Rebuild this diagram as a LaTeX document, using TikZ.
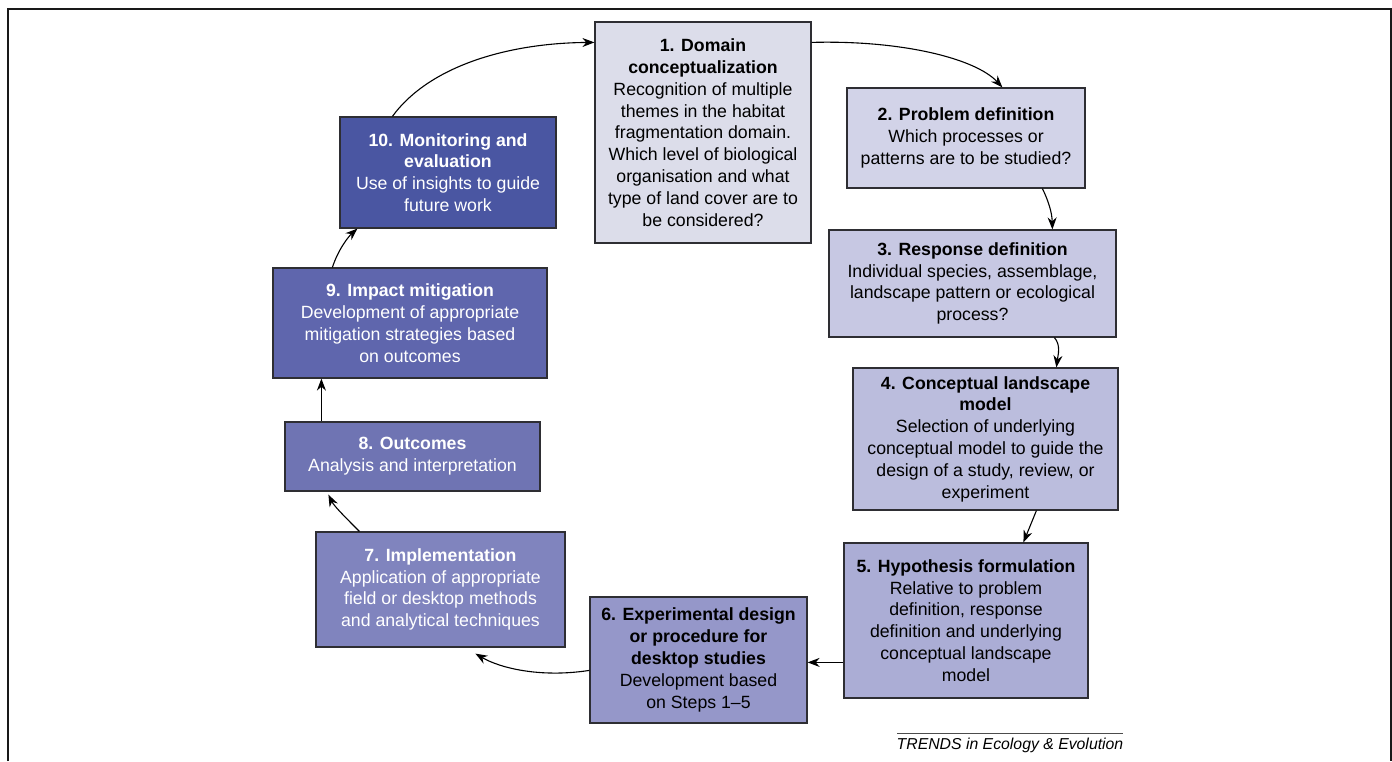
\documentclass[tikz,border=0pt]{standalone}
\usepackage{fontspec}
\setmainfont{Liberation Sans}
\usetikzlibrary{arrows.meta}
\definecolor{c1}{HTML}{DCDDEA}
\definecolor{c2}{HTML}{D2D3E8}
\definecolor{c3}{HTML}{C7C8E3}
\definecolor{c4}{HTML}{BBBDDD}
\definecolor{c5}{HTML}{ABADD5}
\definecolor{c6}{HTML}{9597C9}
\definecolor{c7}{HTML}{8084BE}
\definecolor{c8}{HTML}{6F74B3}
\definecolor{c9}{HTML}{5F66AD}
\definecolor{c10}{HTML}{4A56A2}
\definecolor{edge}{HTML}{2E2E33}
\tikzset{
  stepbox/.style={draw=edge, line width=1.2pt, inner sep=0pt, align=center,
    font=\fontsize{17.7}{21.8}\selectfont, text=black},
  darkbox/.style={stepbox, text=white},
  flow/.style={draw=black, line width=1.1pt, -{Stealth[length=12pt,width=9pt]}},
}
\begin{document}
\begin{tikzpicture}[x=1pt,y=-1pt]
\useasboundingbox (0,0) rectangle (1392,761);
% frame
\draw[line width=2pt, draw=black!90] (8,761) -- (8,9) -- (1391,9) -- (1391,761);
% boxes
\node[stepbox, fill=c1, minimum width=216pt, minimum height=221pt] (b1) at (703,132.5)
  {\textbf{1. Domain}\\\textbf{conceptualization}\\Recognition of multiple\\themes in the habitat\\fragmentation domain.\\Which level of biological\\organisation and what\\type of land cover are to\\be considered?};
\node[stepbox, fill=c2, minimum width=238pt, minimum height=100pt] (b2) at (966,138)
  {\textbf{2. Problem definition}\\Which processes or\\patterns are to be studied?};
\node[stepbox, fill=c3, minimum width=287pt, minimum height=107pt] (b3) at (972.5,283.5)
  {\textbf{3. Response definition}\\Individual species, assemblage,\\landscape pattern or ecological\\process?};
\node[stepbox, fill=c4, minimum width=265pt, minimum height=142pt] (b4) at (985.5,439)
  {\textbf{4. Conceptual landscape}\\\textbf{model}\\Selection of underlying\\conceptual model to guide the\\design of a study, review, or\\experiment};
\node[stepbox, fill=c5, minimum width=244pt, minimum height=155pt] (b5) at (966,620.5)
  {\textbf{5. Hypothesis formulation}\\Relative to problem\\definition, response\\definition and underlying\\conceptual landscape\\model};
\node[stepbox, fill=c6, minimum width=217pt, minimum height=126pt] (b6) at (698.5,660)
  {\textbf{6. Experimental design}\\\textbf{or procedure for}\\\textbf{desktop studies}\\Development based\\on Steps 1--5};
\node[darkbox, fill=c7, minimum width=249pt, minimum height=115pt] (b7) at (440.5,589.5)
  {\textbf{7. Implementation}\\Application of appropriate\\field or desktop methods\\and analytical techniques};
\node[darkbox, fill=c8, minimum width=255pt, minimum height=69pt] (b8) at (412.5,456.5)
  {\textbf{8. Outcomes}\\Analysis and interpretation};
\node[darkbox, fill=c9, minimum width=274pt, minimum height=110pt] (b9) at (410,323)
  {\textbf{9. Impact mitigation}\\Development of appropriate\\mitigation strategies based\\on outcomes};
\node[darkbox, fill=c10, minimum width=216pt, minimum height=111pt] (b10) at (448,172.5)
  {\textbf{10. Monitoring and}\\\textbf{evaluation}\\Use of insights to guide\\future work};
% connectors
\draw[flow] ([yshift=-21pt]b1.north east) .. controls (900,40) and (975,58) .. ([xshift=156pt]b2.north west);
\draw[flow] ([xshift=196pt]b2.south west) .. controls (1048,200) and (1052,212) .. ([xshift=224pt]b3.north west);
\draw[flow] ([xshift=226pt]b3.south west) .. controls (1061,345) and (1058,355) .. ([xshift=204pt]b4.north west);
\draw[flow] ([xshift=184pt]b4.south west) -- ([xshift=180pt]b5.north west);
\draw[flow] ([yshift=-120pt]b5.north west) -- ([yshift=-66pt]b6.north east);
\draw[flow] ([yshift=-74pt]b6.north west) .. controls (540,678) and (500,668) .. ([xshift=160pt,yshift=-6pt]b7.south west);
\draw[flow] ([xshift=44pt]b7.north west) .. controls (346,518) and (334,506) .. ([xshift=44pt,yshift=-3pt]b8.south west);
\draw[flow] ([xshift=37pt]b8.north west) -- ([xshift=49pt]b9.south west);
\draw[flow] ([xshift=60pt]b9.north west) .. controls (338,250) and (348,237) .. ([xshift=18pt]b10.south west);
\draw[flow] ([xshift=53pt]b10.north west) .. controls (430,65) and (510,43) .. ([yshift=-21pt]b1.north west);
% credit
\draw[line width=0.6pt, draw=black!70] (897,733) -- (1123,733);
\node[anchor=north, inner sep=0pt, font=\fontsize{15.8}{18}\selectfont\itshape] (trends) at (1010,738) {TRENDS in Ecology \& Evolution};
\end{tikzpicture}
\end{document}
